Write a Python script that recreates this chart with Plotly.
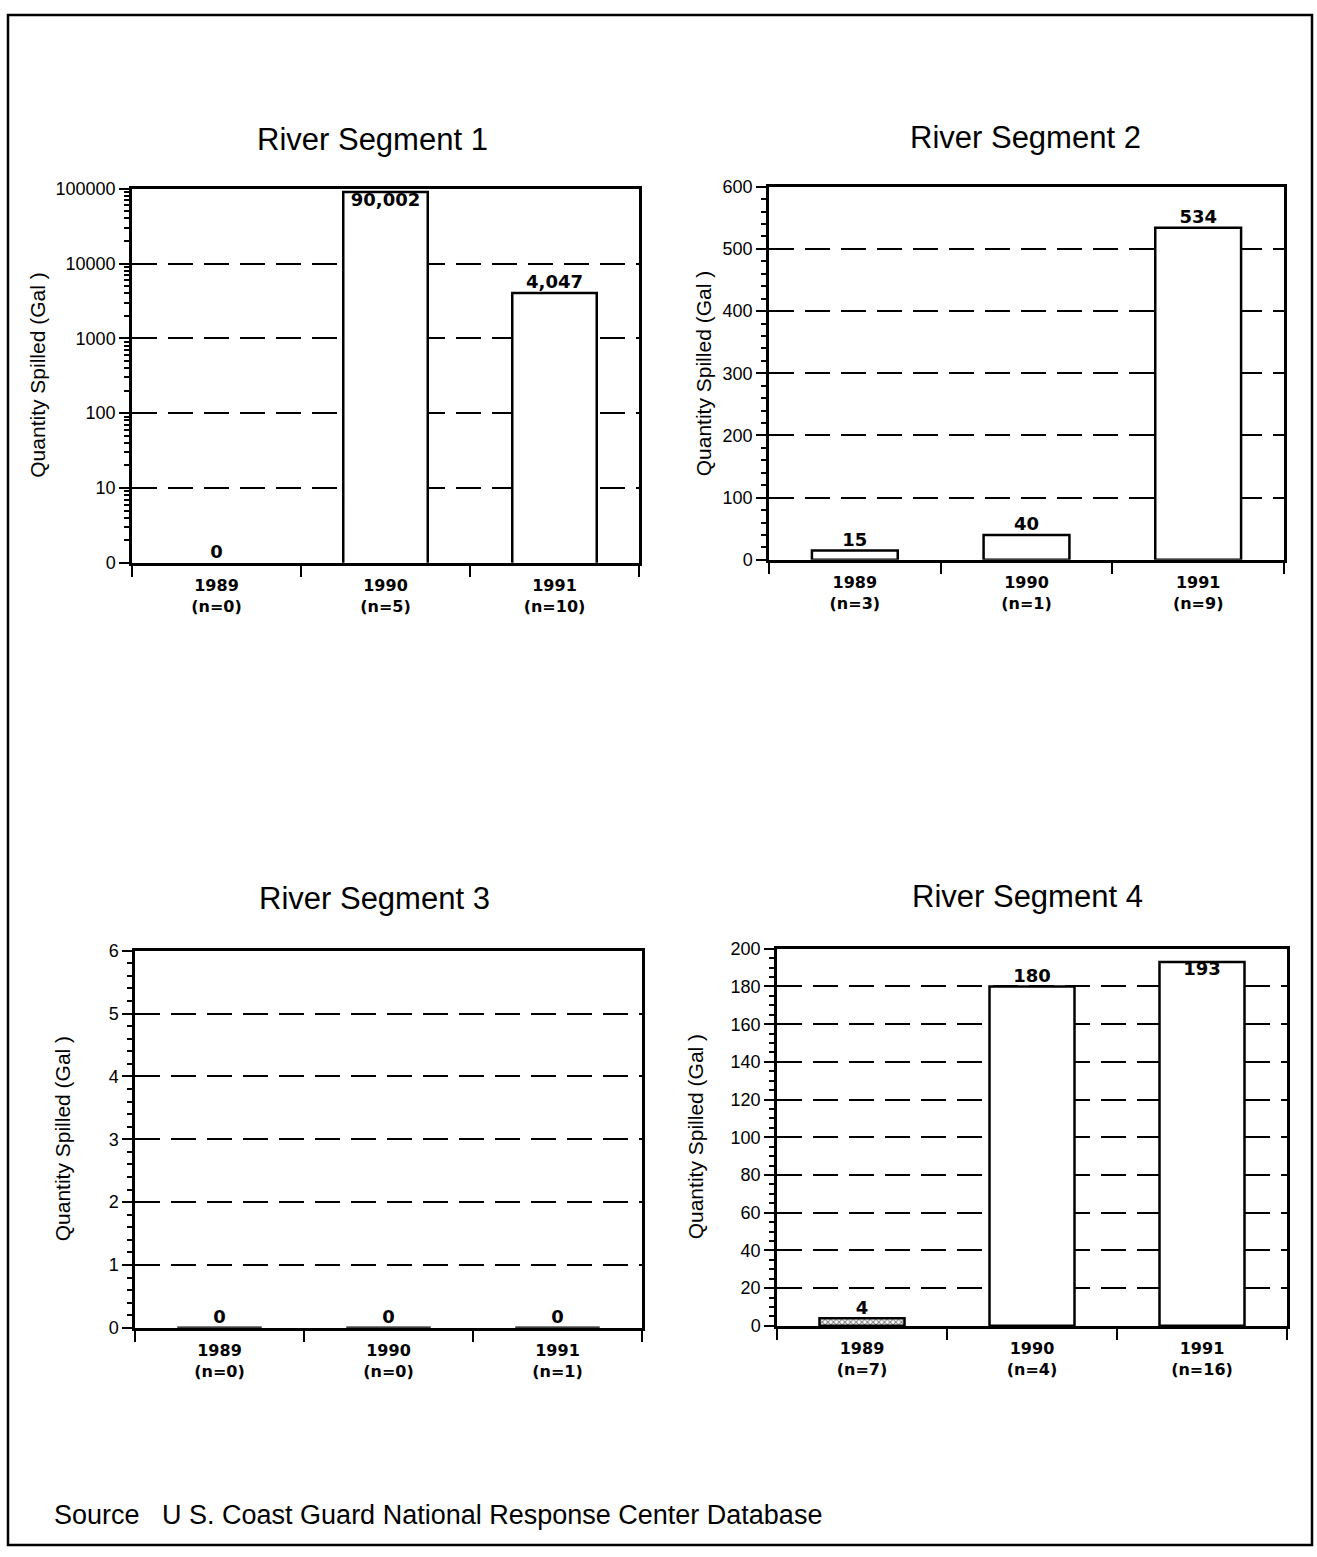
import math
import plotly.graph_objects as go

W, H = 1317, 1557

# ---- data ----
years = ["1989", "1990", "1991"]
seg1_n = [0, 5, 10]
seg1_vals = [0, 90002, 4047]
seg2_n = [3, 1, 9]
seg2_vals = [15, 40, 534]
seg3_n = [0, 0, 1]
seg3_vals = [0, 0, 0]
seg4_n = [7, 4, 16]
seg4_vals = [4, 180, 193]

titles = ["River Segment 1", "River Segment 2", "River Segment 3", "River Segment 4"]
ytitle = "Quantity Spilled (Gal )"
source_text = "Source   U S. Coast Guard National Response Center Database"

seg1_ticks = [1, 10, 100, 1000, 10000, 100000]
seg1_ticktext = ["0", "10", "100", "1000", "10000", "100000"]

HELV = "Liberation Sans, Arial, Helvetica, sans-serif"
WIDE = "DejaVu Sans, Verdana, sans-serif"

# panel pixel boxes (left, top, right, bottom)
boxes = [(132, 181, 639, 560), (769, 179, 1284, 557),
         (135, 953, 642, 1335), (777, 951, 1287, 1333)]
title_xy = [(372, 131), (1025, 129), (374, 900), (1027, 898)]
ylab_x = [38, 703, 62, 695]

panels = [
    dict(n=seg1_n, vals=seg1_vals, log=True, rng=[0, 5], dtick=None, minor=None,
         pattern=["", "", ""]),
    dict(n=seg2_n, vals=seg2_vals, log=False, rng=[0, 600], dtick=100, minor=20,
         pattern=["", "", ""]),
    dict(n=seg3_n, vals=seg3_vals, log=False, rng=[0, 6], dtick=1, minor=0.2,
         pattern=["", "", ""]),
    dict(n=seg4_n, vals=seg4_vals, log=False, rng=[0, 200], dtick=20, minor=5,
         pattern=["x", "", ""]),
]

fig = go.Figure()
layout = {}
annotations = []

for i, p in enumerate(panels):
    k = "" if i == 0 else str(i + 1)
    xa, ya = "x" + k, "y" + k
    l, t, r, b = boxes[i]
    cats = [f"{y}<br>(n={n})" for y, n in zip(years, p["n"])]
    # bars
    fig.add_trace(go.Bar(
        x=cats, y=p["vals"], xaxis=xa, yaxis=ya, width=0.5,
        marker=dict(color="white", line=dict(color="black", width=2.5),
                    pattern=dict(shape=p["pattern"], fgcolor="black", bgcolor="white",
                                 size=4, solidity=0.45)),
        hoverinfo="skip", showlegend=False))
    # value labels
    if p["log"]:
        ypos = [max(v, 1) for v in p["vals"]]
        frac = [(math.log10(v) / p["rng"][1]) if v > 0 else 0 for v in p["vals"]]
    else:
        ypos = list(p["vals"])
        frac = [v / p["rng"][1] for v in p["vals"]]
    tpos = ["bottom center" if f > 0.95 else "top center" for f in frac]
    fig.add_trace(go.Scatter(
        x=cats, y=ypos, xaxis=xa, yaxis=ya, mode="text",
        text=[f"{v:,}" for v in p["vals"]], textposition=tpos,
        textfont=dict(family=WIDE, size=18, color="black", weight="bold"),
        cliponaxis=False, hoverinfo="skip", showlegend=False))

    xdict = dict(domain=[l / W, r / W], anchor=ya, type="category",
                 tickson="boundaries", ticks="outside", ticklen=11, tickwidth=2,
                 tickcolor="black", showline=True, mirror=True, linewidth=2.5,
                 linecolor="black", showgrid=False, zeroline=False,
                 ticklabelstandoff=6,
                 tickfont=dict(family=WIDE, size=16, color="black", weight="bold"),
                 range=[-0.5, 2.5], fixedrange=True)
    ydict = dict(domain=[1 - b / H, 1 - t / H], anchor=xa,
                 ticks="outside", ticklen=10, tickwidth=2, tickcolor="black",
                 showline=True, mirror=True, linewidth=2.5, linecolor="black",
                 showgrid=True, gridcolor="black", gridwidth=2, griddash="25px,11px",
                 zeroline=False, tickfont=dict(family=HELV, size=18, color="black"),
                 fixedrange=True)
    if p["log"]:
        ydict.update(type="log", range=p["rng"], tickmode="array",
                     tickvals=seg1_ticks, ticktext=seg1_ticktext,
                     minor=dict(ticks="outside", ticklen=5, tickwidth=1.5,
                                tickcolor="black", dtick="D1", showgrid=False))
    else:
        ydict.update(range=p["rng"], dtick=p["dtick"], tick0=0,
                     minor=dict(ticks="outside", ticklen=5, tickwidth=1.5,
                                tickcolor="black", dtick=p["minor"], showgrid=False))
    layout["xaxis" + k] = xdict
    layout["yaxis" + k] = ydict

    tx, ty = title_xy[i]
    annotations.append(dict(text=titles[i], x=tx / W, y=1 - ty / H,
                            xref="paper", yref="paper", showarrow=False,
                            xanchor="center", yanchor="middle",
                            font=dict(family=HELV, size=31, color="black")))
    annotations.append(dict(text=ytitle, x=ylab_x[i] / W, y=1 - ((t + b) / 2) / H,
                            xref="paper", yref="paper", showarrow=False, textangle=-90,
                            xanchor="center", yanchor="middle",
                            font=dict(family=HELV, size=21, color="black")))

annotations.append(dict(text=source_text, x=52 / W, y=1 - 1525 / H, xref="paper",
                        yref="paper", showarrow=False, xanchor="left", yanchor="middle",
                        font=dict(family=HELV, size=27, color="black")))

fig.update_layout(
    width=W, height=H, margin=dict(l=0, r=0, t=0, b=0),
    paper_bgcolor="white", plot_bgcolor="white", showlegend=False,
    annotations=annotations, bargap=0.5,
    shapes=[dict(type="rect", xref="paper", yref="paper",
                 x0=8 / W, x1=1312 / W, y0=1 - 1555 / H, y1=1 - 5 / H,
                 line=dict(color="black", width=2.5))],
    **layout)

fig.write_html("out.html")
